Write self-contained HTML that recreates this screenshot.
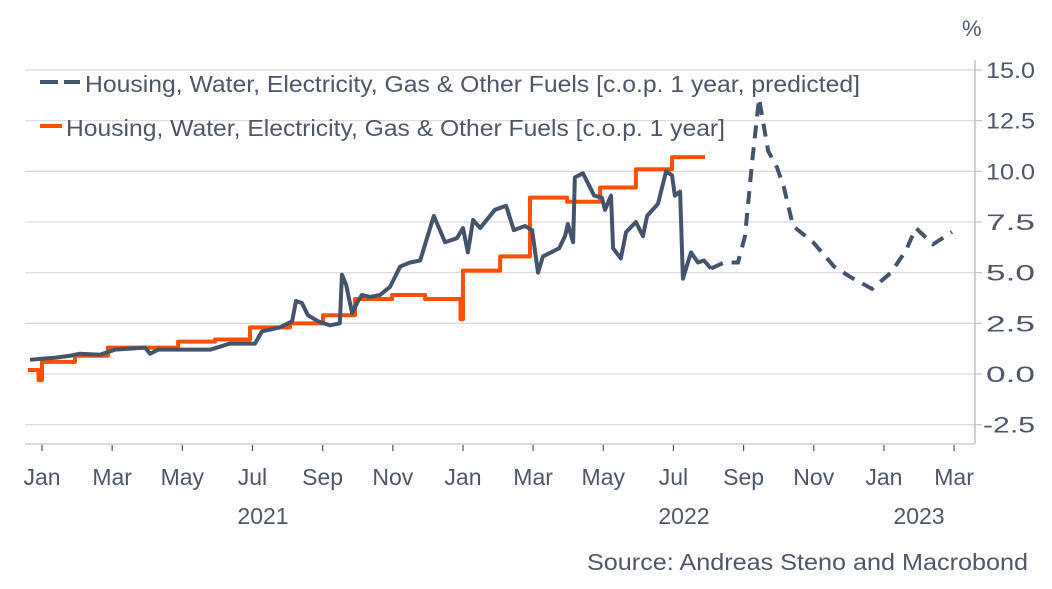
<!DOCTYPE html>
<html><head><meta charset="utf-8"><style>
body{margin:0;background:#fff;width:1052px;height:584px;overflow:hidden;font-family:"Liberation Sans",sans-serif}
svg text{font-family:"Liberation Sans",sans-serif;fill:#4d5767}
</style></head><body>
<svg id="chart" width="1052" height="584" viewBox="0 0 1052 584" xmlns="http://www.w3.org/2000/svg">
<g id="grid"></g><g id="axes"></g><g id="series"></g><g id="labels"></g>
<g>
<line x1="40" y1="82" x2="58" y2="82" stroke="#44546a" stroke-width="4"/>
<line x1="64" y1="82" x2="80" y2="82" stroke="#44546a" stroke-width="4"/>
<text x="85" y="92" font-size="23" textLength="775" lengthAdjust="spacingAndGlyphs">Housing, Water, Electricity, Gas &amp; Other Fuels [c.o.p. 1 year, predicted]</text>
<line x1="40" y1="126" x2="62" y2="126" stroke="#ff4f00" stroke-width="4"/>
<text x="66" y="136" font-size="23" textLength="659" lengthAdjust="spacingAndGlyphs">Housing, Water, Electricity, Gas &amp; Other Fuels [c.o.p. 1 year]</text>
</g>
<text x="962" y="36" font-size="22">%</text>
<text x="1028" y="570" font-size="23" text-anchor="end" textLength="441" lengthAdjust="spacingAndGlyphs">Source: Andreas Steno and Macrobond</text>
</svg>
<script>
const yTicks=[15,12.5,10,7.5,5,2.5,0,-2.5];
const monthLabels=["Jan","Mar","May","Jul","Sep","Nov","Jan","Mar","May","Jul","Sep","Nov","Jan","Mar"];
const monthIdx=[0,2,4,6,8,10,12,14,16,18,20,22,24,26];
const yearLabels=["2021","2022","2023"];
const yearIdx=[6.3,18.3,25];
const actualMonths=[-0.34,0,0.37,0.8,1.08,1.65,2.08,2.51,2.94,3.08,3.31,3.93,4.79,5.36,6.07,6.27,6.78,7.13,7.24,7.41,7.58,7.87,8.21,8.49,8.55,8.67,8.84,9.01,9.12,9.35,9.64,9.92,10.21,10.49,10.78,11.17,11.49,11.83,12.0,12.14,12.29,12.49,12.91,13.23,13.45,13.77,13.97,14.14,14.28,14.74,14.91,14.99,15.14,15.19,15.42,15.74,15.96,16.05,16.22,16.28,16.5,16.65,16.93,17.13,17.25,17.56,17.79,17.96,18.04,18.19,18.27,18.5,18.7,18.87,19.07];
const actualValues=[0.7,0.75,0.8,0.9,1.0,0.95,1.2,1.25,1.3,1.0,1.2,1.2,1.2,1.5,1.5,2.1,2.3,2.6,3.6,3.5,2.9,2.6,2.4,2.5,4.9,4.4,3.0,3.6,3.9,3.8,3.9,4.3,5.3,5.5,5.6,7.8,6.5,6.7,7.2,6.0,7.6,7.2,8.1,8.3,7.1,7.3,7.1,5.0,5.8,6.2,6.8,7.4,6.5,9.7,9.9,8.8,8.7,8.1,8.8,6.2,5.7,7.0,7.5,6.8,7.8,8.4,10.0,9.8,8.8,9.0,4.7,6.0,5.5,5.6,5.2];
const predMonths=[19.07,19.44,19.84,20.04,20.24,20.44,20.7,20.95,21.15,21.41,21.98,22.58,23.03,23.66,24.2,24.63,24.91,25.4,25.94];
const predValues=[5.2,5.5,5.5,6.8,10.4,13.6,11.0,10.2,9.2,7.3,6.5,5.3,4.8,4.2,5.0,6.1,7.2,6.4,7.0];
const stepStarts=[-0.4,-0.1,0,0.94,1.88,3.88,4.93,5.93,7.07,8.01,8.92,9.98,10.92,11.93,12.0,13.06,13.91,14.97,15.91,16.93,17.96];
const stepValues=[0.2,-0.3,0.6,0.9,1.3,1.6,1.7,2.3,2.5,2.9,3.7,3.9,3.7,2.7,5.1,5.8,8.7,8.5,9.2,10.1,10.7];
const stepEnd=18.9;

const X=m=>42+m*35.08, Y=v=>374-v*20.27;
const NS="http://www.w3.org/2000/svg";
function mk(tag,attrs,parent){const e=document.createElementNS(NS,tag);for(const k in attrs)e.setAttribute(k,attrs[k]);document.getElementById(parent).appendChild(e);return e;}
yTicks.forEach(v=>{
 const g=mk('line',{x1:25,x2:975,y1:Y(v),y2:Y(v),stroke:'#dcdcdc','stroke-width':1.3},'grid');
 
 
 mk('line',{x1:975,x2:982,y1:Y(v),y2:Y(v),stroke:'#bbb','stroke-width':1},'axes');
 const t=mk('text',{x:v<0?983:986,y:Y(v)+8,'font-size':22,textLength:v<0?52:49,lengthAdjust:'spacingAndGlyphs'},'labels');t.textContent=v.toFixed(1);
 
 
});
const ya=mk('line',{x1:975,x2:975,y1:60,y2:444,stroke:'#bbb','stroke-width':1.3},'axes');


const xa=mk('line',{x1:25,x2:975,y1:444,y2:444,stroke:'#c4c4c8','stroke-width':1.3},'axes');


monthIdx.forEach((m,i)=>{
 mk('line',{x1:X(m),x2:X(m),y1:445,y2:451,stroke:'#44546a','stroke-width':1.2},'axes');
 const t=mk('text',{x:X(m),y:485,'font-size':23,'text-anchor':'middle'},'labels');t.textContent=monthLabels[i];
 
 
});
yearIdx.forEach((m,i)=>{
 const t=mk('text',{x:X(m),y:524,'font-size':23,'text-anchor':'middle'},'labels');t.textContent=yearLabels[i];
 
 
});
let d='';
stepStarts.forEach((m,i)=>{const e=i<stepStarts.length-1?stepStarts[i+1]:stepEnd;d+=(i?'L':'M')+X(m)+','+Y(stepValues[i])+'L'+X(e)+','+Y(stepValues[i]);});
const o=mk('path',{d,fill:'none',stroke:'#ff4f00','stroke-width':4,'stroke-linejoin':'round'},'series');


const a=mk('path',{d:actualMonths.map((m,i)=>(i?'L':'M')+X(m)+','+Y(actualValues[i])).join(''),fill:'none',stroke:'#44546a','stroke-width':4,'stroke-linejoin':'round'},'series');


const p=mk('path',{d:predMonths.map((m,i)=>(i?'L':'M')+X(m)+','+Y(predValues[i])).join(''),fill:'none',stroke:'#44546a','stroke-width':4,'stroke-dasharray':'13 9'},'series');


</script>
</body></html>
